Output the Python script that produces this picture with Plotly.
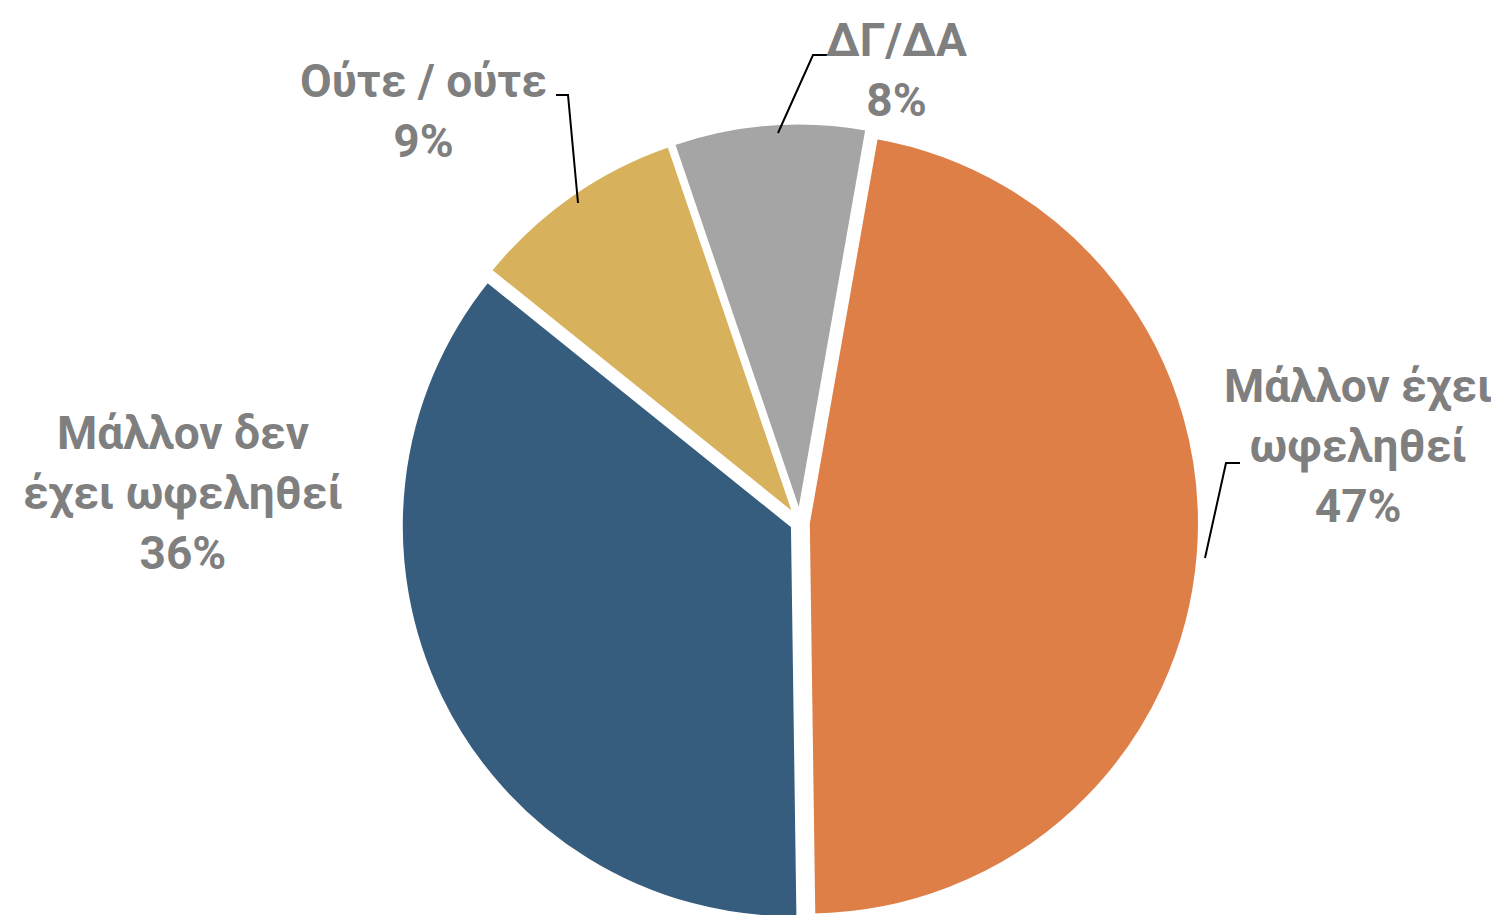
import plotly.graph_objects as go

labels = ["Μάλλον έχει ωφεληθεί", "Μάλλον δεν έχει ωφεληθεί", "Ούτε / ούτε", "ΔΓ/ΔΑ"]
values = [47, 36, 9, 8]
colors = ["#DE7F48", "#365D7E", "#D8B15D", "#A5A5A5"]
label_text = ["Μάλλον έχει<br>ωφεληθεί", "Μάλλον δεν<br>έχει ωφεληθεί", "Ούτε / ούτε", "ΔΓ/ΔΑ"]

W, H = 1499, 915


def px(x, y):
    return x / W, 1 - y / H


fig = go.Figure(
    go.Pie(
        labels=labels,
        values=values,
        sort=False,
        direction="clockwise",
        rotation=10,
        pull=[0.02] * 4,
        marker=dict(colors=colors, line=dict(color="white", width=4)),
        textinfo="none",
        hoverinfo="label+percent",
        domain=dict(x=[392 / W, 1192 / W], y=[0, 0.875]),
        showlegend=False,
    )
)

# label positions (pixel centres) and leader lines
label_pos = [(1350, 438), (175, 485), (415, 103), (888, 62)]
leaders = [
    [(1232, 455), (1218, 455), (1197, 550)],
    None,
    [(548, 87), (560, 87), (570, 195)],
    [(822, 47), (805, 47), (770, 125)],
]

annotations = []
shapes = []
for txt, v, (x, y), ld in zip(label_text, values, label_pos, leaders):
    ax, ay = px(x, y)
    annotations.append(
        dict(
            x=ax, y=ay, xref="paper", yref="paper",
            text=f"<b>{txt}<br>{v}%</b>",
            showarrow=False, xanchor="center", yanchor="middle",
            font=dict(family="Roboto", size=46, color="#7F7F7F"),
        )
    )
    if ld:
        pts = [px(a, b) for a, b in ld]
        path = "M " + " L ".join(f"{a},{b}" for a, b in pts)
        shapes.append(dict(type="path", path=path, xref="paper", yref="paper",
                           line=dict(color="black", width=2)))

fig.update_layout(
    width=W, height=H,
    margin=dict(l=0, r=0, t=0, b=0),
    paper_bgcolor="white",
    plot_bgcolor="white",
    annotations=annotations,
    shapes=shapes,
)

fig.write_html("out.html")
